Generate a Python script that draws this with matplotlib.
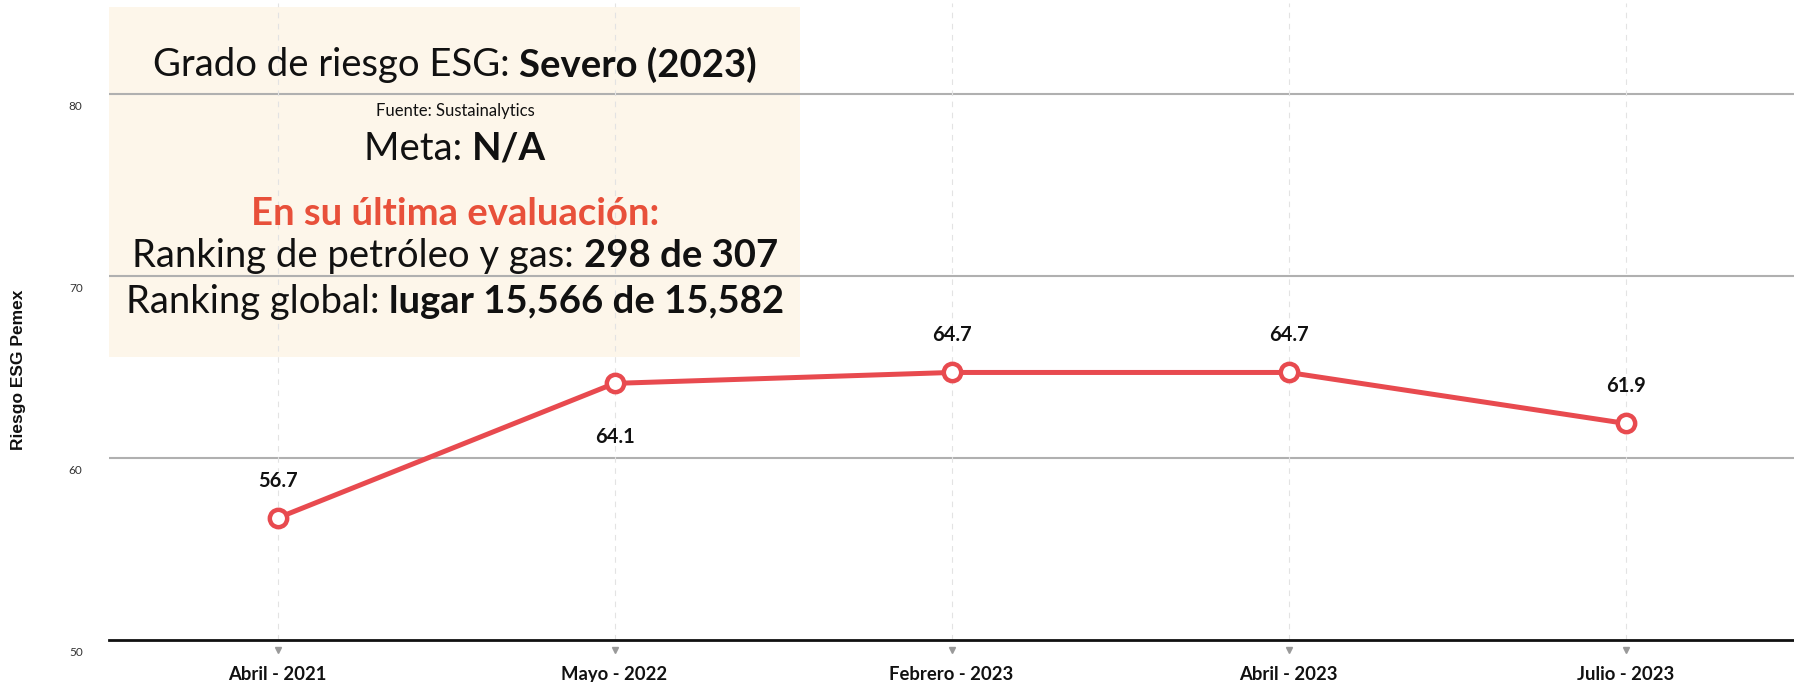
import matplotlib
matplotlib.use("Agg")
import matplotlib.pyplot as plt
import matplotlib.transforms as mtransforms
from matplotlib.patches import Rectangle

# --- datos ---
periodos = ["Abril - 2021", "Mayo - 2022", "Febrero - 2023", "Abril - 2023", "Julio - 2023"]
riesgo = [56.7, 64.1, 64.7, 64.7, 61.9]
etiqueta_abajo = [False, True, False, False, False]
y_ticks = [50, 60, 70, 80]

ROJO = "#e84a4f"
FONT = "Lato"

plt.rcParams["font.family"] = [FONT, "DejaVu Sans"]

fig = plt.figure(figsize=(17.94, 6.82), dpi=100, facecolor="white")
ax = fig.add_axes([109 / 1794, 42 / 682, 1 - 109 / 1794, 637 / 682])
ax.set_xlim(-0.5, len(periodos) - 0.5)
ax.set_ylim(50, 85)
for s in ax.spines.values():
    s.set_visible(False)

xs = list(range(len(periodos)))

# caja de texto (fondo crema)
ax.add_patch(Rectangle((-0.5, 65.55), 2.05, 19.25, facecolor="#fdf6ea", edgecolor="none", zorder=0))

# rejilla
for y in y_ticks[1:]:
    ax.axhline(y, color="#b0b0b0", lw=1.5, zorder=1)
ax.axhline(50, color="#111111", lw=2, zorder=2, clip_on=False)
for x in xs:
    ax.axvline(x, color="#e3e3e3", lw=0.8, ls=(0, (5, 5)), zorder=1)

# serie
ax.plot(xs, riesgo, color=ROJO, lw=3.6, marker="o", ms=12.5, mfc="white", mec=ROJO, mew=3.2, zorder=5)
for x, v, abajo in zip(xs, riesgo, etiqueta_abajo):
    off = -54 if abajo else 37
    ax.annotate(f"{v:.1f}", (x, v), xytext=(0, off), textcoords="offset pixels",
                ha="center", va="center", fontsize=14.5, fontweight="bold", color="#111111", zorder=6)

# ejes
ax.set_xticks(xs)
ax.set_xticklabels(periodos, fontsize=13.3, fontweight="bold", color="#111111")
ax.tick_params(axis="x", length=0, pad=19)
ax.plot(xs, [-10 / 637] * len(xs), ls="none", marker="v", ms=4, color="#999999",
        transform=ax.get_xaxis_transform(), clip_on=False)

ax.set_yticks(y_ticks)
ax.set_yticklabels([str(t) for t in y_ticks], fontsize=8.5, color="#333333")
ax.tick_params(axis="y", length=0, pad=19)
off = mtransforms.ScaledTranslation(0, -11 / 100, fig.dpi_scale_trans)
for lab in ax.get_yticklabels():
    lab.set_transform(lab.get_transform() + off)

fig.text(18 / 1794, 1 - 370 / 682, "Riesgo ESG Pemex", rotation=90, ha="center", va="center",
         fontsize=12.5, fontweight="bold", color="#111111", family="Liberation Sans")

# textos de la caja
cx = 455 / 1794


def linea(y_px, partes, size):
    # partes: lista de (texto, peso, color); se centra el conjunto en cx
    fy = 1 - y_px / 682
    r = fig.canvas.get_renderer()
    textos = []
    for t, w, c in partes:
        textos.append(fig.text(0, fy, t, fontsize=size, fontweight=w, color=c, ha="left", va="center", zorder=10))
    anchos = [tx.get_window_extent(r).width for tx in textos]
    total = sum(anchos)
    x0 = cx * 1794 - total / 2
    for tx, w in zip(textos, anchos):
        tx.set_x(x0 / 1794)
        x0 += w


linea(65, [("Grado de riesgo ESG: ", "normal", "#111111"), ("Severo (2023)", "bold", "#111111")], 27.5)
linea(111, [("Fuente: Sustainalytics", "normal", "#111111")], 12)
linea(149, [("Meta: ", "normal", "#111111"), ("N/A", "bold", "#111111")], 27.5)
linea(214, [("En su última evaluación:", "bold", "#e8503a")], 27.5)
linea(256, [("Ranking de petróleo y gas: ", "normal", "#111111"), ("298 de 307", "bold", "#111111")], 27.5)
linea(302, [("Ranking global: ", "normal", "#111111"), ("lugar 15,566 de 15,582", "bold", "#111111")], 27.5)

fig.savefig("out.png", dpi=100, facecolor="white")
